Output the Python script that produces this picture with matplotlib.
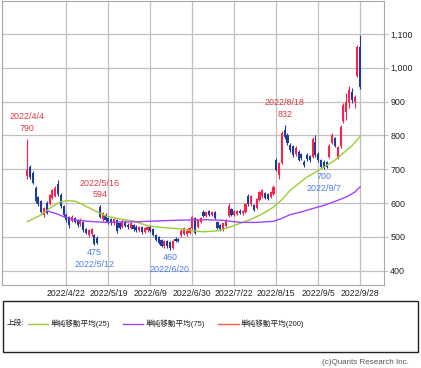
import matplotlib
matplotlib.use("Agg")
import matplotlib.pyplot as plt
from matplotlib.lines import Line2D
from matplotlib.patches import Rectangle
import pandas as pd

# --- data ---
jp_holidays = ["2022-04-29", "2022-05-03", "2022-05-04", "2022-05-05",
               "2022-07-18", "2022-08-11", "2022-09-19", "2022-09-23"]
dates = pd.bdate_range("2022-04-04", "2022-09-28", freq="C", holidays=jp_holidays)

opens = [680, 707, 690, 645, 618, 605, 565, 600, 598, 615, 622, 655, 625, 590, 566, 558, 548, 556, 548, 538,
         545, 522, 505, 508, 505, 498, 588, 552, 565, 555, 552, 540, 550, 540, 530, 545, 535, 526, 535, 530,
         520, 528, 515, 520, 530, 522, 505, 500, 490, 472, 488, 484, 468, 495, 494, 505, 510, 508, 512, 525,
         555, 530, 545, 574, 562, 576, 565, 574, 545, 534, 522, 532, 562, 582, 566, 568, 578, 570, 574, 622,
         596, 594, 586, 610, 620, 630, 626, 618, 628, 727, 684, 718, 815, 800, 772, 768, 745, 752, 745, 722,
         742, 738, 736, 780, 746, 727, 722, 720, 736, 778, 792, 735, 768, 842, 868, 898, 928, 898, 976, 1062]
highs = [790, 712, 695, 650, 622, 610, 588, 605, 628, 642, 650, 668, 630, 594, 570, 562, 565, 560, 552, 555,
         548, 526, 522, 526, 510, 502, 594, 575, 570, 560, 556, 556, 554, 545, 552, 550, 540, 545, 538, 535,
         532, 531, 530, 533, 534, 525, 508, 503, 494, 492, 490, 487, 492, 499, 497, 522, 528, 522, 530, 562,
         560, 552, 558, 580, 578, 580, 576, 578, 548, 537, 542, 552, 600, 586, 581, 580, 582, 581, 600, 628,
         625, 598, 615, 635, 643, 633, 629, 637, 654, 732, 722, 812, 832, 806, 778, 772, 768, 756, 748, 728,
         748, 742, 796, 800, 750, 730, 726, 724, 774, 806, 796, 770, 832, 895, 925, 945, 940, 920, 1066, 1096]
lows = [672, 672, 655, 600, 592, 570, 560, 568, 594, 612, 618, 622, 586, 560, 545, 525, 544, 540, 530, 532,
        515, 508, 500, 504, 475, 478, 555, 548, 545, 538, 535, 536, 512, 522, 527, 528, 522, 522, 518, 516,
        515, 510, 511, 516, 515, 502, 488, 478, 470, 468, 468, 460, 465, 485, 484, 500, 506, 504, 508, 522,
        508, 526, 542, 560, 558, 563, 561, 552, 524, 518, 518, 528, 558, 563, 562, 564, 567, 566, 571, 592,
        592, 578, 582, 606, 616, 611, 609, 614, 624, 694, 670, 714, 790, 772, 750, 736, 740, 724, 726, 706,
        724, 722, 732, 736, 722, 703, 700, 704, 732, 774, 766, 730, 764, 838, 845, 880, 895, 880, 972, 938]
closes = [698, 678, 660, 605, 597, 575, 584, 572, 624, 638, 644, 627, 590, 566, 550, 535, 560, 545, 535, 550,
          520, 512, 520, 522, 480, 483, 560, 570, 550, 542, 540, 552, 518, 527, 548, 532, 528, 540, 522, 520,
          528, 515, 526, 530, 518, 506, 492, 482, 473, 488, 472, 466, 488, 487, 488, 518, 525, 518, 526, 558,
          511, 549, 556, 563, 574, 566, 573, 555, 526, 522, 540, 550, 592, 566, 578, 577, 570, 578, 598, 596,
          622, 581, 612, 632, 640, 614, 612, 634, 648, 698, 718, 806, 796, 778, 756, 742, 764, 728, 732, 712,
          730, 728, 790, 742, 727, 707, 704, 708, 770, 800, 770, 765, 826, 889, 900, 935, 905, 914, 1062, 942]

# moving averages, read at sample points (trading-day index, price)
ma25_idx = [0, 5, 9, 12, 14, 17, 20, 24, 28, 33, 38, 43, 48, 53, 58, 63, 68, 72, 76, 80,
            84, 88, 91, 94, 100, 104, 110, 113, 116, 119]
ma25_val = [545, 565, 590, 604, 607, 606, 595, 578, 562, 553, 547, 533, 528, 525, 520, 515, 518, 528, 540, 552,
            568, 588, 610, 638, 677, 696, 727, 748, 769, 797]
ma75_idx = [7, 10, 13, 17, 22, 28, 34, 40, 46, 52, 58, 64, 70, 76, 82, 88, 91, 94, 98, 102,
            106, 110, 114, 117, 119]
ma75_val = [577, 570, 560, 550, 546, 543, 544, 545, 547, 549, 550, 551, 549, 543, 543, 546, 555, 566, 574, 584,
            593, 605, 618, 632, 648]

tick_labels = ["2022/4/22", "2022/5/19", "2022/6/9", "2022/6/30", "2022/7/22",
               "2022/8/15", "2022/9/5", "2022/9/28"]
y_ticks = [400, 500, 600, 700, 800, 900, 1000, 1100]

# (date, price, is_high)
notes = [("2022/4/4", 790, True), ("2022/5/16", 594, True), ("2022/8/18", 832, True),
         ("2022/5/12", 475, False), ("2022/6/20", 460, False), ("2022/9/7", 700, False)]

legend_labels = ["単純移動平均(25)", "単純移動平均(75)", "単純移動平均(200)"]

# --- style ---
UP, DOWN = "#ff1f4b", "#1c3b9c"
GREEN, PURPLE, ORANGE = "#9acd32", "#a044ff", "#ff6040"
GRID = "#c0c0c0"

plt.rcParams["font.family"] = ["Liberation Sans", "Noto Sans CJK JP", "DejaVu Sans"]

W, H = 421, 368
fig = plt.figure(figsize=(W / 100, H / 100), dpi=100)


def px(x0, y0, x1, y1):
    return [x0 / W, 1 - y1 / H, (x1 - x0) / W, (y1 - y0) / H]


ax = fig.add_axes(px(2, 1, 384, 285))
labels = [f"{d.year}/{d.month}/{d.day}" for d in dates]
pos = {s: i for i, s in enumerate(labels)}

for i, (o, h, l, c) in enumerate(zip(opens, highs, lows, closes)):
    col = UP if c >= o else DOWN
    ax.vlines(i, l, h, color=col, lw=0.8, zorder=2)
    ax.bar(i, max(abs(c - o), 2), bottom=min(o, c), width=0.75, color=col, lw=0, zorder=2)

ax.plot(ma25_idx, ma25_val, color=GREEN, lw=1.0, zorder=3)
ax.plot(ma75_idx, ma75_val, color=PURPLE, lw=1.0, zorder=3)

for d, v, is_high in notes:
    col = "#e0393e" if is_high else "#4c7ee8"
    txt = f"{d}\n{v}" if is_high else f"{v}\n{d}"
    ax.annotate(txt, (pos[d], v), xytext=(0, 6 if is_high else -3), textcoords="offset pixels",
                ha="center", va="bottom" if is_high else "top", color=col, fontsize=6.4,
                linespacing=1.35, zorder=4)

ax.set_xlim(-9, 127.5)
ax.set_ylim(358, 1197)
ax.set_xticks([pos[s] for s in tick_labels])
ax.set_xticklabels(tick_labels)
ax.yaxis.tick_right()
ax.set_yticks(y_ticks)
ax.set_yticklabels([f"{v:,}" for v in y_ticks])
ax.tick_params(axis="x", length=0, pad=3, labelsize=6.2, labelcolor="#222222")
ax.tick_params(axis="y", length=3, color=GRID, pad=1.5, labelsize=6.4, labelcolor="#222222")
ax.grid(True, color=GRID, lw=0.9)
ax.set_axisbelow(True)
for s in ax.spines.values():
    s.set_color("#a8a8a8")

# legend box below the chart
fig.add_artist(Rectangle((3 / W, 1 - 351.5 / H), 415 / W, 51 / H, transform=fig.transFigure,
                         fill=False, edgecolor="#222222", lw=1))
ly = 1 - 323.5 / H
fig.text(6.5 / W, ly, "上段:", fontsize=5.5, va="center", ha="left", color="#222222")
for (x0, x1, tx), col, lab in zip([(28, 48, 51), (123, 143, 146), (218, 239, 241)],
                                  [GREEN, PURPLE, ORANGE], legend_labels):
    fig.add_artist(Line2D([x0 / W, x1 / W], [ly, ly], transform=fig.transFigure, color=col, lw=1))
    fig.text(tx / W, ly, lab, fontsize=5.5, va="center", ha="left", color="#222222")

fig.text(409 / W, 1 - 363 / H, "(c)Quants Research Inc.", fontsize=5.8, ha="right", va="center",
         color="#555555")

fig.savefig("out.png", dpi=100)
